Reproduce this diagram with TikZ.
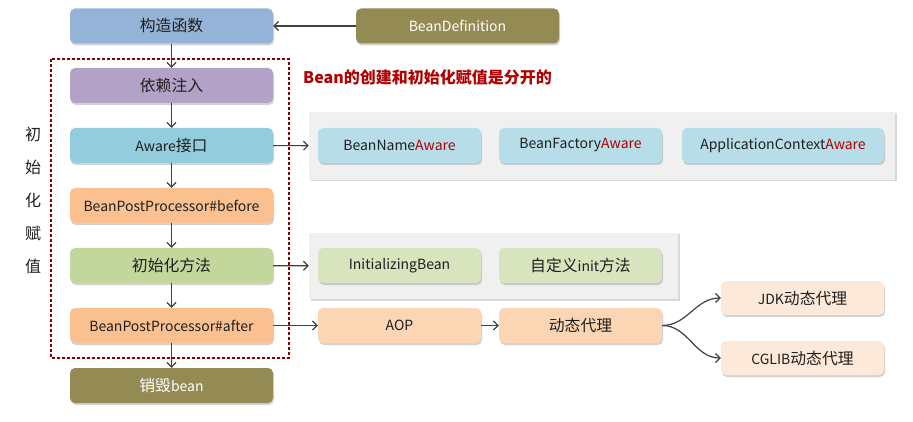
\documentclass[tikz,border=0pt]{standalone}
\usepackage{fontspec}
\setmainfont{Noto Sans CJK SC}
\newfontfamily\cjk[Scale=1.13]{Noto Sans CJK SC}
\newcommand{\zh}[1]{{\cjk #1}}
\usetikzlibrary{arrows.meta,shadows}

\definecolor{ctorblue}{HTML}{95B3D7}
\definecolor{injectpurple}{HTML}{B3A2C7}
\definecolor{awareteal}{HTML}{93CDDD}
\definecolor{bpporange}{HTML}{FAC090}
\definecolor{initgreen}{HTML}{C3D69B}
\definecolor{olive}{HTML}{948A54}
\definecolor{lightteal}{HTML}{B7DEE8}
\definecolor{lightgreen}{HTML}{D7E4BD}
\definecolor{lightorange}{HTML}{FCD5B5}
\definecolor{palepeach}{HTML}{FDE9D9}
\definecolor{panelgray}{HTML}{F0F0F0}
\definecolor{linegray}{HTML}{404040}
\definecolor{textgray}{HTML}{1F1F1F}
\definecolor{darkred}{HTML}{B00000}
\definecolor{dashred}{HTML}{8B0000}

\tikzset{
  box/.style={rectangle, rounded corners=5pt, minimum width=203pt, minimum height=35pt,
    inner sep=0pt, text=textgray, font=\fontsize{14}{16}\selectfont,
    drop shadow={opacity=0.35, shadow xshift=1pt, shadow yshift=-2pt}},
  sidebox/.style={box, minimum width=163pt},
  panel/.style={rectangle, fill=panelgray, inner sep=0pt,
    drop shadow={opacity=0.3, shadow xshift=1.5pt, shadow yshift=-1.5pt}},
  flow/.style={draw=linegray, line width=1.2pt, -{Straight Barb[length=4.5pt,width=9pt]}},
}

\begin{document}
\begin{tikzpicture}[x=1pt,y=-1pt]
  \useasboundingbox[fill=white] (0,0) rectangle (913,422);

  %Shape: Dashed Rectangle
  \draw[dashred, line width=1.2pt, dash pattern=on 3pt off 2pt] (51,59) rectangle (289,358);

  %Shape: Panels
  \node[panel, minimum width=586pt, minimum height=68pt] (awarepanel) at (602,146) {};
  \node[panel, minimum width=369pt, minimum height=66pt] (initpanel) at (493.5,266) {};

  %Left chain
  \node[box, fill=ctorblue] (ctor) at (171.5,26) {\zh{构造函数}};
  \node[box, fill=olive, text=white] (beandef) at (457.5,26) {BeanDefinition};
  \node[box, fill=injectpurple] (inject) at (171.5,85.5) {\zh{依赖注入}};
  \node[box, fill=awareteal] (aware) at (171.5,145.5) {Aware\zh{接口}};
  \node[box, fill=bpporange] (before) at (171.5,205.5) {BeanPostProcessor\#before};
  \node[box, fill=initgreen] (initm) at (171.5,265.5) {\zh{初始化方法}};
  \node[box, fill=bpporange] (after) at (171.5,325.5) {BeanPostProcessor\#after};
  \node[box, fill=olive, text=white] (destroy) at (171.5,385.5) {\zh{销毁}bean};

  %Aware boxes
  \node[sidebox, fill=lightteal] (nameaware) at (399.5,145.5) {BeanName\textcolor{darkred}{Aware}};
  \node[sidebox, fill=lightteal] (factoryaware) at (580.5,145.5) {BeanFactory\textcolor{darkred}{Aware}};
  \node[sidebox, fill=lightteal, minimum width=202pt] (ctxaware) at (783,145.5) {ApplicationContext\textcolor{darkred}{Aware}};

  %Init boxes
  \node[sidebox, fill=lightgreen] (initbean) at (399.5,265.5) {InitializingBean};
  \node[sidebox, fill=lightgreen] (initcustom) at (580.5,265.5) {\zh{自定义}init\zh{方法}};

  %Proxy boxes
  \node[sidebox, fill=lightorange] (aop) at (399.5,325.5) {AOP};
  \node[sidebox, fill=lightorange] (proxy) at (580.5,325.5) {\zh{动态代理}};
  \node[sidebox, fill=palepeach, minimum height=34pt] (jdk) at (802.5,298) {JDK\zh{动态代理}};
  \node[sidebox, fill=palepeach, minimum height=34pt] (cglib) at (802.5,358) {CGLIB\zh{动态代理}};

  % Text Node
  \node[anchor=west, inner sep=0pt, text=darkred, font=\bfseries\fontsize{16}{18}\selectfont] (title) at (303,77) {Bean的创建和初始化赋值是分开的};
  % Text Node
  \node[align=center, inner sep=0pt, text=textgray, font=\fontsize{16}{33}\selectfont] (side) at (33,200) {初\\始\\化\\赋\\值};

  %Connectors
  \draw[flow] (beandef) -- (ctor);
  \draw[flow] (ctor) -- (inject);
  \draw[flow] (inject) -- (aware);
  \draw[flow] (aware) -- (before);
  \draw[flow] (before) -- (initm);
  \draw[flow] (initm) -- (after);
  \draw[flow] (after) -- (destroy);
  \draw[flow] (aware) -- (awarepanel);
  \draw[flow] (initm) -- (initpanel);
  \draw[flow] (after) -- (aop);
  \draw[flow] (aop) -- (proxy);
  \draw[flow] (proxy.east) to[out=0, in=180] (jdk.west);
  \draw[flow] (proxy.east) to[out=0, in=180] (cglib.west);
\end{tikzpicture}
\end{document}
